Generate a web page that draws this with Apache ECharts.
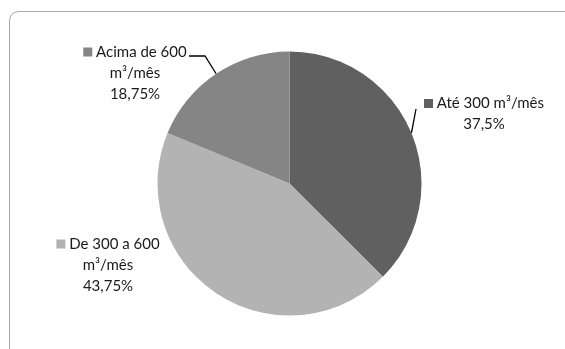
<!DOCTYPE html>
<html><head><meta charset="utf-8">
<script src="https://cdn.jsdelivr.net/npm/echarts@6/dist/echarts.min.js"></script>
<style>html,body{margin:0;padding:0;background:#fff}#c{width:565px;height:349px}</style>
</head><body><div id="c"></div>
<script>
const categories = ['Até 300 m³/mês', 'De 300 a 600 m³/mês', 'Acima de 600 m³/mês'];
const values = [37.5, 43.75, 18.75];
const colors = ['#606060', '#b3b3b3', '#858585'];

const labelPos = [[484, 114], [108, 265], [135, 73]];
const fmt = v => String(v).replace('.', ',') + '%';

const chart = echarts.init(document.getElementById('c'));
chart.setOption({
  backgroundColor: '#fff',
  animation: false,
  graphic: [{
    type: 'rect', shape: {x: 9.5, y: 11.5, width: 600, height: 400, r: 9},
    style: {fill: 'none', stroke: '#a8a8a8', lineWidth: 1}, silent: true, z: -1
  }],
  series: [{
    type: 'pie',
    center: [289.5, 183.5],
    radius: 132,
    startAngle: 90,
    clockwise: true,
    data: categories.map((n, i) => ({
      name: n, value: values[i],
      itemStyle: {color: colors[i]},
      labelLine: {show: i !== 1}
    })),
    itemStyle: {borderWidth: 0},
    label: {
      show: true,
      overflow: 'none',
      fontFamily: 'Lato',
      fontSize: 15,
      color: '#1a1a1a',
      lineHeight: 21,
      align: 'center',
      formatter: p => {
        const name = p.dataIndex === 0 ? p.name : p.name.replace(' m³', '\nm³');
        return '{s' + p.dataIndex + '|} ' + name + '\n' + fmt(p.value);
      },
      rich: {
        s0: {width: 9, height: 9, backgroundColor: colors[0]},
        s1: {width: 9, height: 9, backgroundColor: colors[1]},
        s2: {width: 9, height: 9, backgroundColor: colors[2]}
      }
    },
    labelLine: {lineStyle: {color: '#000', width: 1.3}},
    labelLayout: function (p) {
      const i = p.dataIndex;
      const [x, y] = labelPos[i];
      const out = {x: x, y: y, align: 'center', verticalAlign: 'middle'};
      const s = p.labelLinePoints ? p.labelLinePoints[0] : null;
      if (s && i === 0) out.labelLinePoints = [s, [416, 109], [416, 109]];
      if (s && i === 2) out.labelLinePoints = [s, [205, 56], [189, 56]];
      return out;
    }
  }]
});
</script></body></html>
